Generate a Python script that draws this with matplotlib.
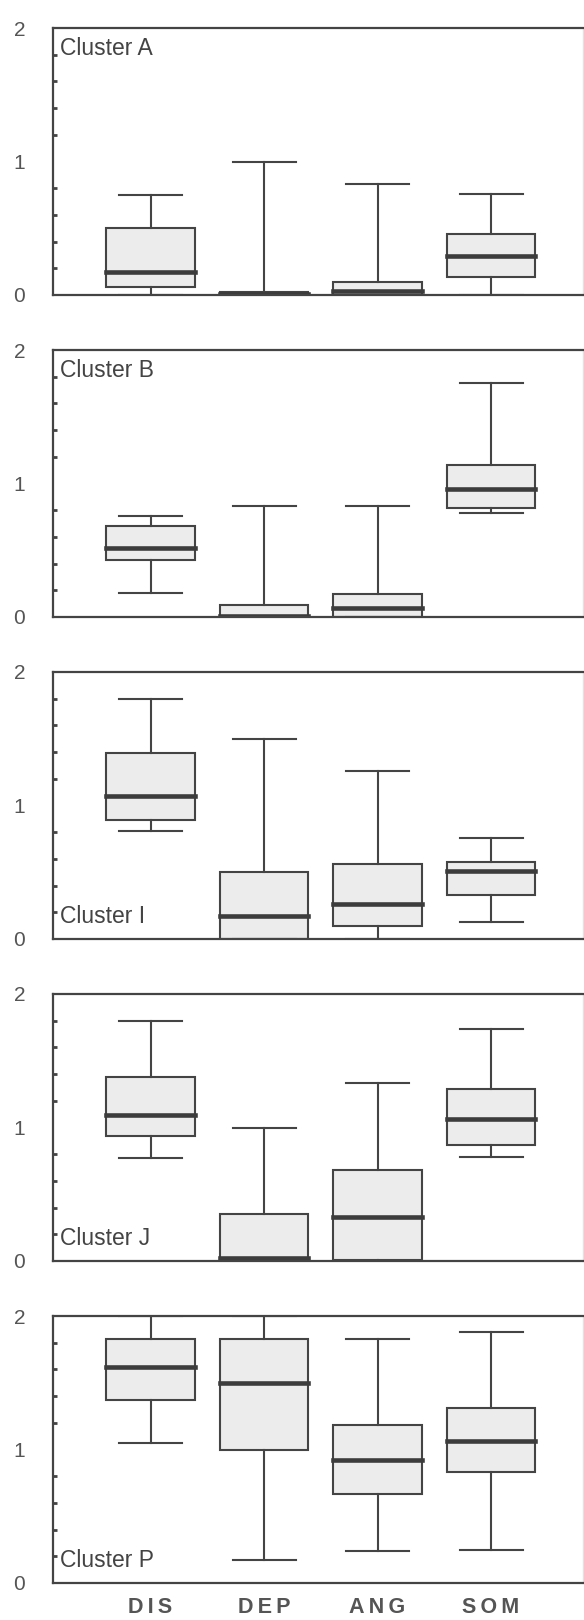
import matplotlib.pyplot as plt
import numpy as np

plt.rcParams['font.family'] = ['Liberation Sans', 'DejaVu Sans']

categories = ["DIS", "DEP", "ANG", "SOM"]
clusters = ["Cluster A", "Cluster B", "Cluster I", "Cluster J", "Cluster P"]
label_at_top = [True, True, False, False, False]

# per cluster, one value per category (DIS, DEP, ANG, SOM)
whisker_low = [
    [0.00, 0.00, 0.00, 0.00],
    [0.18, 0.00, 0.00, 0.78],
    [0.81, 0.00, 0.00, 0.13],
    [0.77, 0.00, 0.00, 0.78],
    [1.05, 0.17, 0.24, 0.25],
]
q1 = [
    [0.06, 0.00, 0.00, 0.135],
    [0.43, 0.00, 0.00, 0.82],
    [0.89, 0.00, 0.10, 0.33],
    [0.94, 0.00, 0.01, 0.87],
    [1.37, 1.00, 0.67, 0.83],
]
median = [
    [0.17, 0.01, 0.03, 0.29],
    [0.52, 0.01, 0.07, 0.96],
    [1.07, 0.17, 0.26, 0.51],
    [1.09, 0.02, 0.33, 1.06],
    [1.62, 1.50, 0.92, 1.06],
]
q3 = [
    [0.50, 0.02, 0.10, 0.46],
    [0.68, 0.09, 0.175, 1.14],
    [1.39, 0.50, 0.56, 0.58],
    [1.38, 0.35, 0.68, 1.29],
    [1.83, 1.83, 1.185, 1.31],
]
whisker_high = [
    [0.75, 1.00, 0.83, 0.76],
    [0.76, 0.83, 0.83, 1.75],
    [1.80, 1.50, 1.26, 0.76],
    [1.80, 1.00, 1.33, 1.74],
    [2.00, 2.00, 1.83, 1.88],
]

fig = plt.figure(figsize=(5.84, 16.2), dpi=100)
W, H = 584, 1620
edge = "#444444"

for i, name in enumerate(clusters):
    top = 28 + i * 322
    ax = fig.add_axes([53 / W, 1 - (top + 267) / H, 530 / W, 267 / H])
    stats = []
    for j, cat in enumerate(categories):
        stats.append(dict(whislo=whisker_low[i][j], q1=q1[i][j], med=median[i][j],
                          q3=q3[i][j], whishi=whisker_high[i][j], label=cat))
    ax.bxp(stats, positions=np.arange(1, 5), widths=0.78, capwidths=0.555,
           showfliers=False, patch_artist=True,
           boxprops=dict(facecolor="#ececec", edgecolor=edge, linewidth=1.5),
           whiskerprops=dict(color=edge, linewidth=1.5),
           capprops=dict(color=edge, linewidth=1.5),
           medianprops=dict(color="#3c3c3c", linewidth=3.3, solid_capstyle="projecting"))
    ax.set_xlim(0.141, 4.81)
    ax.set_ylim(0, 2)
    ax.set_yticks([0, 1, 2])
    ax.set_yticklabels(["0", "1", "2"], fontsize=15, color="#555555")
    ax.set_yticks(np.arange(0.2, 2.0, 0.2), minor=True)
    ax.tick_params(axis="y", which="major", length=0, pad=20)
    ax.tick_params(axis="y", which="minor", direction="in", length=3, width=2,
                   color="#444444")
    ax.tick_params(axis="x", which="both", length=0)
    if i == len(clusters) - 1:
        ax.set_xticklabels(["\u2009".join(c) for c in categories], fontsize=15.5,
                           fontweight="bold", color="#555555")
        ax.tick_params(axis="x", pad=10)
    else:
        ax.set_xticklabels([])
    for s in ["left", "top", "bottom"]:
        ax.spines[s].set_color(edge)
        ax.spines[s].set_linewidth(1.6)
    ax.spines["right"].set_color("#e2e2e2")
    ax.spines["right"].set_linewidth(1.0)
    if label_at_top[i]:
        ax.text(0.013, 0.968, name, transform=ax.transAxes, ha="left", va="top",
                fontsize=16.5, color="#444444")
    else:
        ax.text(0.013, 0.06, name, transform=ax.transAxes, ha="left",
                va="baseline", fontsize=16.5, color="#444444")

fig.savefig("out.png", dpi=100)
